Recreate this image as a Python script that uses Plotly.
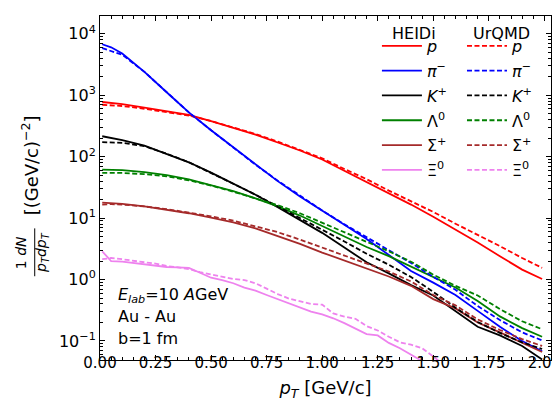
import plotly.graph_objects as go

# ---------------- data ----------------
pt = [0.01, 0.05, 0.1, 0.2, 0.3, 0.4, 0.5, 0.6, 0.7, 0.8, 0.9, 1.0,
      1.1, 1.2, 1.3, 1.4, 1.5, 1.6, 1.7, 1.8, 1.9, 1.99]

p_heidi = [776, 750, 716, 631, 550, 479, 380, 295, 229, 170, 126, 90,
           59, 39, 25, 16.6, 10.5, 6.5, 4.0, 2.4, 1.45, 1.02]
p_urqmd = [700, 688, 668, 603, 537, 468, 380, 299, 234, 176, 130, 94,
           63, 43, 28, 19, 12.6, 8.1, 5.4, 3.5, 2.24, 1.55]

pim_heidi = [6760, 6030, 4790, 2400, 1120, 525, 269, 141, 74, 40, 22.4, 13.0,
             7.8, 4.57, 2.51, 1.38, 0.89, 0.56, 0.309, 0.170, 0.10, 0.068]
pim_urqmd = [5840, 5250, 4570, 2400, 1120, 525, 269, 141, 74, 40.7, 22.9, 13.3,
             7.9, 4.9, 3.02, 1.86, 1.10, 0.68, 0.37, 0.219, 0.138, 0.102]

kp_heidi = [215, 203, 186, 151, 112, 81, 55, 36.3, 24.0, 15.1, 9.3, 5.75,
            3.31, 1.91, 1.26, 0.81, 0.55, 0.309, 0.170, 0.123, 0.083, 0.050]
kp_urqmd = [172, 171, 168, 148, 112, 81, 55, 36.3, 24.0, 15.5, 10.2, 6.6,
            4.17, 2.63, 1.74, 1.10, 0.63, 0.347, 0.204, 0.135, 0.095, 0.074]

lam_heidi = [61.7, 61.2, 60.3, 56.2, 50.1, 42.7, 34.7, 27.5, 20.9, 15.5, 11.0, 7.4,
             5.0, 3.39, 2.40, 1.62, 1.07, 0.74, 0.447, 0.251, 0.162, 0.117]
lam_urqmd = [54.6, 54.5, 54.3, 51.9, 47.9, 41.2, 33.9, 26.9, 20.9, 16.2, 12.0, 8.4,
             6.0, 4.12, 2.88, 1.95, 1.20, 0.79, 0.55, 0.331, 0.209, 0.155]

sig_heidi = [17.8, 17.4, 17.0, 15.5, 13.8, 12.0, 10.2, 8.5, 6.8, 5.1, 3.8, 2.75,
             2.04, 1.51, 1.12, 0.79, 0.48, 0.339, 0.20, 0.138, 0.095, 0.066]
sig_urqmd = [16.6, 16.9, 16.6, 15.5, 14.0, 12.3, 10.7, 9.1, 7.4, 5.9, 4.47, 3.31,
             2.45, 1.82, 1.35, 0.93, 0.56, 0.38, 0.224, 0.151, 0.107, 0.083]

pt_xi = [0.01, 0.05, 0.1, 0.15, 0.2, 0.25, 0.3, 0.35, 0.4, 0.45, 0.5,
         0.55, 0.6, 0.65, 0.7, 0.75, 0.8, 0.85, 0.9, 0.95, 1.0,
         1.05, 1.1, 1.15, 1.2, 1.25, 1.3, 1.35, 1.4, 1.45, 1.5, 1.55]
xi_heidi = [2.88, 2.0, 1.95, 1.86, 1.74, 1.66, 1.60, 1.58, 1.55, 1.29, 1.07,
            0.98, 0.87, 0.74, 0.66, 0.56, 0.48, 0.42, 0.35, 0.30, 0.27,
            0.234, 0.195, 0.158, 0.129, 0.123, 0.093, 0.076, 0.060, 0.047]
xi_urqmd = [2.14, 2.24, 2.14, 2.0, 1.91, 1.82, 1.66, 1.58, 1.48, 1.32, 1.20,
            1.10, 1.02, 0.98, 0.87, 0.71, 0.58, 0.49, 0.44, 0.40, 0.39,
            0.28, 0.25, 0.23, 0.174, 0.148, 0.117, 0.095, 0.087, 0.076, 0.056, 0.040]

labels = ["<i>p</i>", "<i>π</i><sup>−</sup>", "<i>K</i><sup>+</sup>",
          "Λ<sup>0</sup>", "Σ<sup>+</sup>", "Ξ<sup>0</sup>"]
colors = ["#ff0000", "#0000ff", "#000000", "#008000", "#a52a2a", "#ee82ee"]
legend_titles = ["HEIDi", "UrQMD"]

heidi = [(pt, p_heidi), (pt, pim_heidi), (pt, kp_heidi), (pt, lam_heidi),
         (pt, sig_heidi), (pt_xi[:len(xi_heidi)], xi_heidi)]
urqmd = [(pt, p_urqmd), (pt, pim_urqmd), (pt, kp_urqmd), (pt, lam_urqmd),
         (pt, sig_urqmd), (pt_xi, xi_urqmd)]

FONT = "DejaVu Sans"
fig = go.Figure()
for i, (xs, ys) in enumerate(heidi):
    fig.add_trace(go.Scatter(x=xs, y=ys, mode="lines", name=labels[i],
                             line=dict(color=colors[i], width=1.8),
                             legend="legend", legendgroup="h%d" % i, showlegend=True))
for i, (xs, ys) in enumerate(urqmd):
    fig.add_trace(go.Scatter(x=xs, y=ys, mode="lines", name=labels[i],
                             line=dict(color=colors[i], width=1.8, dash="5px,2.5px"),
                             legend="legend2", legendgroup="u%d" % i, showlegend=True))

L, R, T, B = 92, 12, 7, 49
W, H = 560, 401
pw, ph = W - L - R, H - T - B


def px2paper(px, py):
    return (px - L) / pw, (H - B - py) / ph


ytickvals = [0.1, 1, 10, 100, 1000, 10000]
yticktext = ["10<sup>−1</sup>", "10<sup>0</sup>", "10<sup>1</sup>",
             "10<sup>2</sup>", "10<sup>3</sup>", "10<sup>4</sup>"]

axis_common = dict(showline=True, linecolor="black", linewidth=1, mirror="allticks",
                   ticks="inside", ticklen=5, tickwidth=1, tickcolor="black",
                   showgrid=False, zeroline=False)

fig.update_xaxes(range=[0, 2.03], dtick=0.25, tick0=0, tickformat=".2f",
                 ticklabeloverflow="allow", ticklabelstandoff=-11,
                 tickfont=dict(family=FONT, size=15, color="black"),
                 minor=dict(ticks="inside", ticklen=3, dtick=0.05, tick0=0,
                            tickcolor="black", showgrid=False),
                 title=dict(text="<i>p<sub>T</sub></i> [GeV/c]",
                            font=dict(family=FONT, size=18, color="black"),
                            standoff=10),
                 **axis_common)
fig.update_yaxes(type="log", range=[-1.31, 4.29], tickvals=ytickvals, ticktext=yticktext,
                 tickfont=dict(family=FONT, size=16, color="black"),
                 minor=dict(ticks="inside", ticklen=3, dtick="D1",
                            tickcolor="black", showgrid=False),
                 **axis_common)

leg_common = dict(font=dict(family=FONT, size=16, color="black"),
                  bgcolor="rgba(0,0,0,0)", borderwidth=0,
                  xanchor="left", yanchor="top", tracegroupgap=1,
                  itemwidth=40)
lx1, ly1 = px2paper(372, 20)
lx2, ly2 = px2paper(458, 20)
fig.update_layout(
    legend=dict(x=lx1, y=ly1, **leg_common),
    legend2=dict(x=lx2, y=ly2, **leg_common),
)

annotations = []
# legend column titles
for cx, t in zip([409, 498], legend_titles):
    tx, ty = px2paper(cx, 25)
    annotations.append(dict(text=t, x=tx, y=ty, xref="paper", yref="paper",
                            xanchor="center", yanchor="middle", showarrow=False,
                            font=dict(family=FONT, size=16, color="black")))
# info text
for k, txt in enumerate(["<i>E<sub>lab</sub></i>=10 <i>A</i>GeV", "Au - Au", "b=1 fm"]):
    ax_, ay_ = px2paper(108, 287 + 21.7 * k)
    annotations.append(dict(text=txt, x=ax_, y=ay_, xref="paper", yref="paper",
                            xanchor="left", yanchor="middle", showarrow=False,
                            font=dict(family=FONT, size=16, color="black")))
# y axis title pieces
bx, by = px2paper(21, 157)
annotations.append(dict(text="[(GeV/c)<sup>−2</sup>]", x=bx, y=by, xref="paper", yref="paper",
                        textangle=-90, showarrow=False, xanchor="center", yanchor="middle",
                        font=dict(family=FONT, size=18, color="black")))
nx, ny = px2paper(12, 244)
annotations.append(dict(text="1 <i>dN</i>", x=nx, y=ny, xref="paper", yref="paper",
                        textangle=-90, showarrow=False, xanchor="center", yanchor="middle",
                        font=dict(family=FONT, size=14, color="black")))
dx, dy = px2paper(34, 244)
annotations.append(dict(text="<i>p<sub>T</sub>dp<sub>T</sub></i>", x=dx, y=dy, xref="paper", yref="paper",
                        textangle=-90, showarrow=False, xanchor="center", yanchor="middle",
                        font=dict(family=FONT, size=14, color="black")))
fx0, fy0 = px2paper(26, 220)
fx1, fy1 = px2paper(26, 268)

fig.update_layout(
    width=W, height=H,
    margin=dict(l=L, r=R, t=T, b=B),
    plot_bgcolor="white", paper_bgcolor="white",
    annotations=annotations,
    shapes=[dict(type="line", xref="paper", yref="paper", x0=fx0, x1=fx1, y0=fy0, y1=fy1,
                 line=dict(color="black", width=1))],
)

fig.write_html("out.html")
